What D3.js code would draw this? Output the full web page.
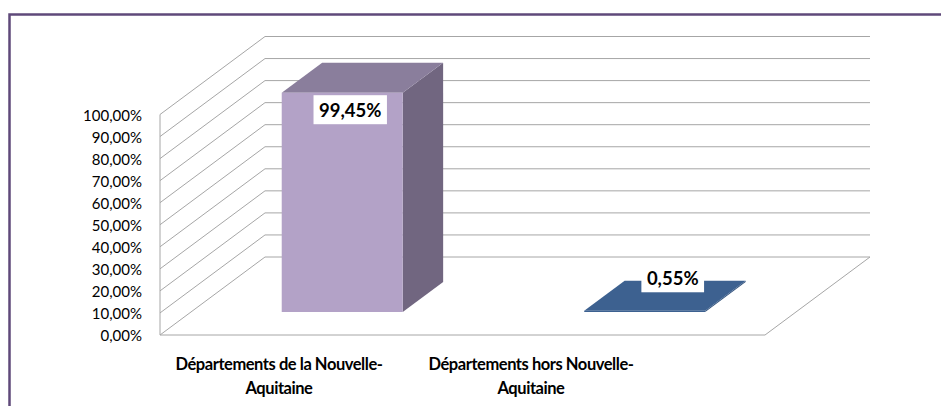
<!DOCTYPE html>
<html lang="fr">
<head>
    <meta charset="UTF-8">
    <title>Départements</title>
    <script src="https://d3js.org/d3.v7.min.js"></script>
    <style>
        body { margin: 0; background: #fff; font-family: Lato, "Open Sans", sans-serif; }
        svg { display: block; }
    </style>
</head>
<body>
    <svg id="chart" width="941" height="406"></svg>
    <script>
        // data
        const categories = ["Départements de la Nouvelle-Aquitaine", "Départements hors Nouvelle-Aquitaine"];
        const labelLines = [["Départements de la Nouvelle-", "Aquitaine"], ["Départements hors Nouvelle-", "Aquitaine"]];
        const values = [0.9945, 0.0055];
        const valueLabels = ["99,45%", "0,55%"];
        const yTicks = [0, 0.1, 0.2, 0.3, 0.4, 0.5, 0.6, 0.7, 0.8, 0.9, 1.0];

        const svg = d3.select("#chart");

        // outer frame
        svg.append("rect")
            .attr("x", 9.5).attr("y", 14.5)
            .attr("width", 960).attr("height", 420)
            .attr("fill", "none")
            .attr("stroke", "#5f497a")
            .attr("stroke-width", 2.5);

        // 3d box geometry: front plane + depth offset
        const x0 = 160, x1 = 765;
        const depthX = 105, depthY = -78;
        const y = d3.scaleLinear().domain([0, 1]).range([335, 114.5]);
        const x = d3.scaleBand().domain(categories).range([x0, x1]).paddingInner(0.6).paddingOuter(0.3);
        const front = 0.295, back = 0.68; // bar depth position (fraction of depth)

        const P = (px, py, d) => [px + d * depthX, py + d * depthY];
        const line = d3.line();

        const grid = svg.append("g").attr("fill", "none").attr("stroke", "#a6a6a6").attr("stroke-width", 1);

        // floor
        grid.append("path").attr("d", line([P(x0, y(0), 0), P(x0, y(0), 1), P(x1, y(0), 1), P(x1, y(0), 0)]) + "Z");
        // left wall edge
        grid.append("path").attr("d", line([[x0, y(0)], [x0, y(1)]]));
        // gridlines on side and back wall
        yTicks.slice(1).forEach(t => {
            grid.append("path").attr("d", line([P(x0, y(t), 0), P(x0, y(t), 1), P(x1, y(t), 1)]));
        });

        // y tick labels
        svg.append("g").selectAll("text")
            .data(yTicks).join("text")
            .attr("x", 142).attr("y", d => y(d) + 1)
            .attr("dy", "0.35em")
            .attr("text-anchor", "end")
            .attr("font-size", 15)
            .attr("fill", "#000")
            .text(d => d3.format(".2f")(d * 100).replace(".", ",") + "%");

        // bars
        const styles = [
            { front: "#b3a2c7", top: "#8a7e9c", side: "#716680" },
            { front: "#3d6190", top: "#3d6190", side: "#35557e" }
        ];
        const bars = svg.append("g");
        categories.forEach((c, i) => {
            const bx0 = x(c), bx1 = x(c) + x.bandwidth();
            const yb = y(0), yt = y(values[i]);
            const s = styles[i];
            // side
            bars.append("path").attr("fill", s.side)
                .attr("d", line([P(bx1, yt, front), P(bx1, yt, back), P(bx1, yb, back), P(bx1, yb, front)]) + "Z");
            // top
            bars.append("path").attr("fill", s.top)
                .attr("d", line([P(bx0, yt, front), P(bx0, yt, back), P(bx1, yt, back), P(bx1, yt, front)]) + "Z");
            // front
            bars.append("path").attr("fill", s.front)
                .attr("d", line([P(bx0, yt, front), P(bx1, yt, front), P(bx1, yb, front), P(bx0, yb, front)]) + "Z");
        });

        // data labels: inside top for tall bars, above for flat ones
        categories.forEach((c, i) => {
            const cx = x(c) + x.bandwidth() / 2;
            const [fx, fy] = P(cx, y(values[i]), front);
            const tall = values[i] > 0.1;
            const lx = tall ? fx + 8 : fx + 28;
            const ly = tall ? fy + 18 : fy - 32;
            const g = svg.append("g");
            const t = g.append("text")
                .attr("x", lx).attr("y", ly)
                .attr("dy", "0.36em")
                .attr("text-anchor", "middle")
                .attr("font-size", 18.5)
                .attr("font-weight", "bold")
                .attr("fill", "#000")
                .text(valueLabels[i]);
            const bb = t.node().getBBox();
            g.insert("rect", "text")
                .attr("x", bb.x - 5.5).attr("y", ly - (tall ? 15.5 : 8.5))
                .attr("width", bb.width + 11).attr("height", tall ? 29 : 22)
                .attr("fill", "#fff");
        });

        // category labels
        const lx = d3.scalePoint().domain(categories).range([279, 531]);
        const cat = svg.append("g");
        categories.forEach((c, i) => {
            const t = cat.append("text")
                .attr("text-anchor", "middle")
                .attr("font-size", 16.5)
                .attr("font-weight", "bold")
                .attr("letter-spacing", -0.45)
                .attr("fill", "#000");
            labelLines[i].forEach((l, k) => {
                t.append("tspan").attr("x", lx(c)).attr("y", 370 + k * 24).text(l);
            });
        });
    </script>
</body>
</html>
